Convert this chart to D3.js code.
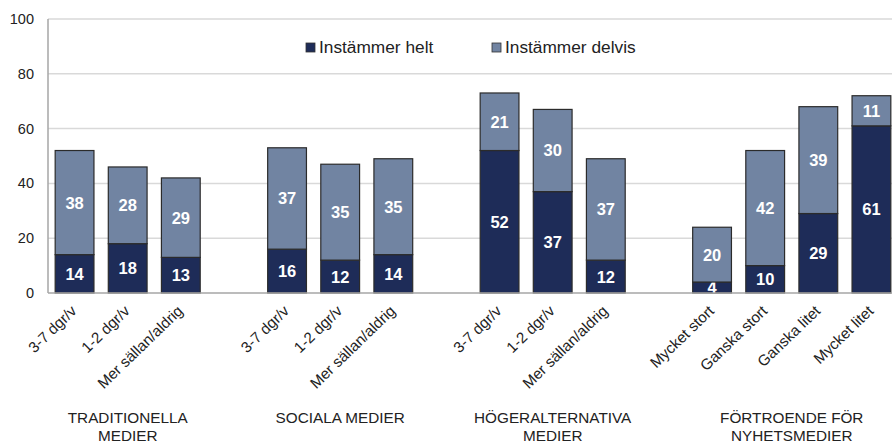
<!DOCTYPE html>
<html>
<head>
<meta charset="utf-8">
<style>
  body { margin: 0; background: #fff; }
  text { font-family: "Liberation Sans", Arial, sans-serif; }
  .grid line { stroke: #d9d9d9; stroke-width: 1.5; }
</style>
</head>
<body>
<svg id="chart" width="892" height="443"></svg>
<script src="https://cdnjs.cloudflare.com/ajax/libs/d3/7.8.5/d3.min.js"></script>
<script>
// data
var groups = ["TRADITIONELLA MEDIER", "SOCIALA MEDIER", "HÖGERALTERNATIVA MEDIER", "FÖRTROENDE FÖR NYHETSMEDIER"];
var groupLines = [["TRADITIONELLA", "MEDIER"], ["SOCIALA MEDIER"], ["HÖGERALTERNATIVA", "MEDIER"], ["FÖRTROENDE FÖR", "NYHETSMEDIER"]];
var categories = [
  ["3-7 dgr/v", "1-2 dgr/v", "Mer sällan/aldrig"],
  ["3-7 dgr/v", "1-2 dgr/v", "Mer sällan/aldrig"],
  ["3-7 dgr/v", "1-2 dgr/v", "Mer sällan/aldrig"],
  ["Mycket stort", "Ganska stort", "Ganska litet", "Mycket litet"]
];
var helt = [[14, 18, 13], [16, 12, 14], [52, 37, 12], [4, 10, 29, 61]];
var delvis = [[38, 28, 29], [37, 35, 35], [21, 30, 37], [20, 42, 39, 11]];
var seriesNames = ["Instämmer helt", "Instämmer delvis"];
var colors = ["#1e2c58", "#7184a2"];
var yTicks = [0, 20, 40, 60, 80, 100];

// flatten into slots, one empty slot between groups
var rows = [], slots = [];
groups.forEach(function(g, gi) {
  categories[gi].forEach(function(c, ci) {
    var id = gi + "-" + ci;
    slots.push(id);
    rows.push({ id: id, group: gi, cat: c, helt: helt[gi][ci], delvis: delvis[gi][ci] });
  });
  if (gi < groups.length - 1) slots.push("gap" + gi);
});

var svg = d3.select("#chart");

var x = d3.scaleBand().domain(slots).range([48, 898]).paddingInner(0.27).paddingOuter(0.135);
var y = d3.scaleLinear().domain([0, 100]).range([293, 19]);

// grid
svg.append("g").attr("class", "grid")
  .selectAll("line").data(yTicks.slice(1)).enter().append("line")
  .attr("x1", 48).attr("x2", 892)
  .attr("y1", function(d) { return y(d); }).attr("y2", function(d) { return y(d); });

// y labels
svg.append("g").selectAll("text").data(yTicks).enter().append("text")
  .attr("x", 34).attr("y", function(d) { return y(d); })
  .attr("dy", "0.35em").attr("text-anchor", "end")
  .attr("font-size", 14.5).attr("fill", "#222")
  .text(function(d) { return d; });

// legend
var legend = svg.append("g");
var legX = [306, 492];
seriesNames.forEach(function(n, i) {
  legend.append("rect").attr("x", legX[i]).attr("y", 43).attr("width", 9).attr("height", 9)
    .attr("fill", colors[i]).attr("stroke", "#333").attr("stroke-width", 0.8);
  legend.append("text").attr("x", legX[i] + 13).attr("y", 53)
    .attr("font-size", 17.3).attr("fill", "#222").text(n);
});

// bars
var stack = d3.stack().keys(["helt", "delvis"]);
var stacked = stack(rows);
var layers = svg.append("g").selectAll("g").data(stacked).enter().append("g")
  .attr("fill", function(d, i) { return colors[i]; });

layers.selectAll("rect").data(function(d) { return d; }).enter().append("rect")
  .attr("x", function(d) { return x(d.data.id); })
  .attr("width", x.bandwidth())
  .attr("y", function(d) { return y(d[1]); })
  .attr("height", function(d) { return y(d[0]) - y(d[1]); })
  .attr("stroke", "#2b2b2b").attr("stroke-width", 1.2);

layers.selectAll("text").data(function(d) { return d.map(function(p) { return { p: p, key: d.key }; }); })
  .enter().append("text")
  .attr("x", function(d) { return x(d.p.data.id) + x.bandwidth() / 2; })
  .attr("y", function(d) { return y((d.p[0] + d.p[1]) / 2); })
  .attr("dy", "0.36em").attr("text-anchor", "middle")
  .attr("font-size", 16.5).attr("font-weight", "bold").attr("fill", "#fff")
  .text(function(d) { return d.p.data[d.key]; });

// axes lines
svg.append("line").attr("x1", 48).attr("x2", 48).attr("y1", 19).attr("y2", 293)
  .attr("stroke", "#a6a6a6").attr("stroke-width", 1.5);
svg.append("line").attr("x1", 48).attr("x2", 892).attr("y1", 293).attr("y2", 293)
  .attr("stroke", "#a6a6a6").attr("stroke-width", 1.5);

// category labels
svg.append("g").selectAll("text").data(rows).enter().append("text")
  .attr("transform", function(d) {
    return "translate(" + (x(d.id) + x.bandwidth() / 2 + 3) + ",312) rotate(-44)";
  })
  .attr("text-anchor", "end").attr("font-size", 15.2).attr("fill", "#222")
  .text(function(d) { return d.cat; });

// group labels
groupLines.forEach(function(lines, gi) {
  var ids = rows.filter(function(r) { return r.group === gi; }).map(function(r) { return r.id; });
  var cx = (x(ids[0]) + x(ids[ids.length - 1]) + x.bandwidth()) / 2;
  var t = svg.append("text").attr("text-anchor", "middle").attr("font-size", 15.3).attr("fill", "#222");
  lines.forEach(function(l, li) {
    t.append("tspan").attr("x", cx).attr("y", 423 + li * 18).text(l);
  });
});
</script>
</body>
</html>
